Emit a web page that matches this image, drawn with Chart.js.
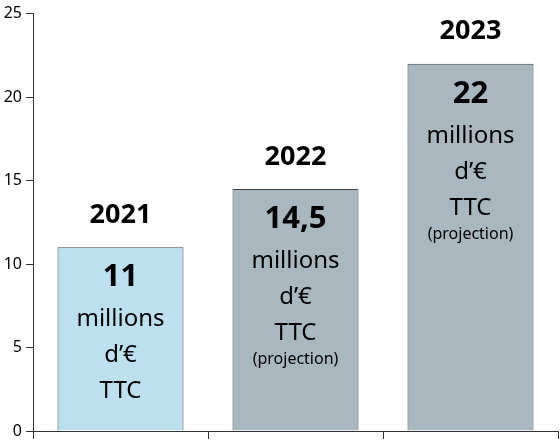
<!DOCTYPE html>
<html>
<head>
<meta charset="utf-8">
<script src="https://cdn.jsdelivr.net/npm/chart.js@4"></script>
<style>
  html, body { margin: 0; padding: 0; background: #fff; }
  #wrap { width: 560px; height: 447px; }
</style>
</head>
<body>
<div id="wrap"><canvas id="myChart"></canvas></div>
<script>
const years = ["2021", "2022", "2023"];
const values = [11, 14.5, 22];
const valueLabels = ["11", "14,5", "22"];
const lines = [
  ["millions", "d\u2019\u20ac", "TTC"],
  ["millions", "d\u2019\u20ac", "TTC", "(projection)"],
  ["millions", "d\u2019\u20ac", "TTC", "(projection)"],
];
const yTicks = [0, 5, 10, 15, 20, 25];

const fillColors = ["#bde0ef", "#a8b8be", "#a8b8be"];
const font = "'Noto Sans', 'Open Sans', sans-serif";

const labelPlugin = {
  id: "barLabels",
  afterDatasetsDraw(chart) {
    const c = chart.ctx;
    const meta = chart.getDatasetMeta(0);
    c.save();
    c.fillStyle = "#000";
    c.textAlign = "center";
    c.textBaseline = "middle";
    meta.data.forEach((bar, i) => {
      const x = bar.x;
      const top = bar.y;
      c.font = "bold 27px " + font;
      c.fillText(years[i], x, top - 32);
      c.font = "bold 31px " + font;
      c.fillText(valueLabels[i], x, top + 30);
      lines[i].forEach((t, j) => {
        if (t.startsWith("(")) {
          c.font = "16px " + font;
          c.fillText(t, x, top + 30 + 36 * 3 + 33);
        } else {
          c.font = "24px " + font;
          c.fillText(t, x, top + 72 + 36 * j);
        }
      });
    });
    c.restore();
  },
};

new Chart(document.getElementById("myChart"), {
  type: "bar",
  data: {
    labels: years,
    datasets: [{
      data: values,
      backgroundColor: fillColors,
      borderColor: "#3c4448",
      borderWidth: 1,
      barPercentage: 0.72,
      categoryPercentage: 1,
    }],
  },
  options: {
    responsive: true,
    maintainAspectRatio: false,
    animation: false,
    layout: { padding: { top: 12, right: 2, left: 0, bottom: 0 } },
    plugins: { legend: { display: false }, tooltip: { enabled: false } },
    scales: {
      x: {
        ticks: { display: false },
        grid: { display: true, drawOnChartArea: false, tickLength: 8, color: "#333", offset: true },
        border: { color: "#333" },
        afterFit: (s) => { s.height = 16; },
      },
      y: {
        min: 0,
        max: 25,
        afterBuildTicks: (s) => { s.ticks = yTicks.map((v) => ({ value: v })); },
        ticks: { color: "#000", font: { family: font, size: 16 }, padding: 4 },
        grid: { drawOnChartArea: false, tickLength: 7, color: "#333" },
        border: { color: "#333" },
        afterFit: (s) => { s.width = 33; },
      },
    },
  },
  plugins: [labelPlugin],
});
</script>
</body>
</html>
